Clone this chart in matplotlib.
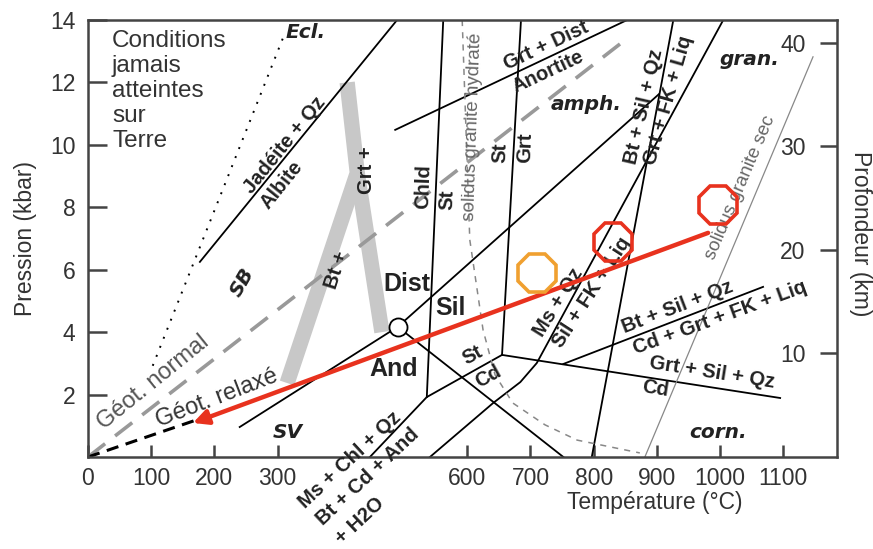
import matplotlib
matplotlib.use("Agg")
import matplotlib.pyplot as plt

plt.rcParams['font.family'] = ['Liberation Sans', 'DejaVu Sans']

# axis ticks (400 and 500 are left out in the original, the labels sit there)
T_ticks = [0, 100, 200, 300, 600, 700, 800, 900, 1000, 1100]
P_ticks = [2, 4, 6, 8, 10, 12, 14]
depth_ticks = [10, 20, 30, 40]
km_per_kbar = 3.014

# reaction curves and limits (T in degC, P in kbar)
ecl_T = [308, 100]
ecl_P = [13.4, 2.8]
jad_T = [177, 489]
jad_P = [6.25, 14.0]
band_left_T = [315, 426, 410]
band_left_P = [2.37, 9.1, 12.0]
band_right_T = [426, 465]
band_right_P = [9.1, 4.0]
normal_T = [0, 846]
normal_P = [0, 13.3]
relax_T = [0, 172]
relax_P = [0, 1.19]
path_T = [981, 166]
path_P = [7.18, 1.09]
triple_T = [490]
triple_P = [4.17]
ky_and_T = [240, 490]
ky_and_P = [0.96, 4.17]
ky_sil_T = [490, 903]
ky_sil_P = [4.17, 11.62]
and_sil_T = [490, 752]
and_sil_P = [4.17, 0]
grt_an_T = [486, 853]
grt_an_P = [10.48, 14.0]
chld_st_T = [562, 536]
chld_st_P = [14.0, 1.92]
st_grt_T = [685, 655]
st_grt_P = [14.0, 3.27]
ms_chl_T = [446, 536, 655]
ms_chl_P = [0, 1.92, 3.27]
grt_cd_T = [655, 1095]
grt_cd_P = [3.27, 1.89]
bt_cd_T = [752, 1068]
bt_cd_P = [2.98, 5.45]
bt_grt_T = [926, 797]
bt_grt_P = [14.0, 0]
ms_qz_T = [1005, 710, 684, 641, 541]
ms_qz_P = [14.0, 3.01, 2.40, 1.73, 0]
wet_T = [592, 604, 625, 644, 672, 723, 774, 873]
wet_P = [14.0, 6.96, 4.07, 2.63, 1.73, 1.03, 0.54, 0.13]
dry_T = [881, 1147]
dry_P = [0, 12.82]
red_T = [997, 831]
red_P = [8.08, 6.89]
orange_T = [710]
orange_P = [5.90]

red = '#e8321e'
txt = '#333333'

fig = plt.figure(figsize=(8.73, 5.49), dpi=100)
ax = fig.add_axes([0.1008, 0.1676, 0.858, 0.796])
ax.set_xlim(0, 1185)
ax.set_ylim(0, 14)

# grey band
ax.plot(band_left_T, band_left_P, color='#c8c8c8', lw=11, solid_capstyle='butt', zorder=1)
ax.plot(band_right_T, band_right_P, color='#c8c8c8', lw=11, solid_capstyle='butt', zorder=1)

# geotherms
ax.plot(normal_T, normal_P, color='#999999', lw=2.6, dashes=(6, 3.5), zorder=2)
ax.plot(relax_T, relax_P, color='black', lw=2.2, dashes=(4, 2.5), zorder=2)
ax.plot(ecl_T, ecl_P, color='black', lw=1.4, dashes=(1, 4), zorder=2)

# reactions
for xs, ys in [(jad_T, jad_P), (ky_and_T, ky_and_P), (ky_sil_T, ky_sil_P),
               (and_sil_T, and_sil_P), (grt_an_T, grt_an_P), (chld_st_T, chld_st_P),
               (st_grt_T, st_grt_P), (ms_chl_T, ms_chl_P), (grt_cd_T, grt_cd_P),
               (bt_cd_T, bt_cd_P), (bt_grt_T, bt_grt_P), (ms_qz_T, ms_qz_P)]:
    ax.plot(xs, ys, color='black', lw=1.3, zorder=2)

ax.plot(wet_T, wet_P, color='#888888', lw=1.1, dashes=(4, 4), zorder=2)
ax.plot(dry_T, dry_P, color='#888888', lw=0.9, zorder=2)

# P-T path
ax.annotate('', xy=(path_T[1], path_P[1]), xytext=(path_T[0], path_P[0]),
            arrowprops=dict(arrowstyle='-|>', color=red, lw=3.2, mutation_scale=22,
                            shrinkA=0, shrinkB=0), zorder=4)
ax.plot(red_T, red_P, '8', ms=29, mfc='none', mec=red, mew=2.6, zorder=5)
ax.plot(orange_T, orange_P, '8', ms=29, mfc='none', mec='#f0a030', mew=2.6, zorder=5)
ax.plot(triple_T, triple_P, 'o', ms=13, mfc='white', mec='black', mew=1.3, zorder=5)

# labels
ax.text(38, 13.69, 'Conditions\njamais\natteintes\nsur\nTerre', ha='left', va='top',
        fontsize=17.5, color=txt, linespacing=1.18)

it = dict(family='DejaVu Sans', style='italic', weight='bold', fontsize=14.5,
          color='#222222', ha='center', va='center')
ax.text(345, 13.59, 'Ecl.', **it)
ax.text(244, 5.61, 'SB', rotation=60, rotation_mode='anchor', **it)
ax.text(316, 0.80, 'SV', **it)
ax.text(1047, 12.72, 'gran.', **it)
ax.text(788, 11.28, 'amph.', **it)
ax.text(997, 0.80, 'corn.', **it)

big = dict(fontsize=18, weight='bold', color='#222222', ha='center', va='center')
ax.text(505, 5.54, 'Dist', **big)
ax.text(573, 4.78, 'Sil', **big)
ax.text(483, 2.82, 'And', **big)

rx = dict(fontsize=14.5, weight='bold', color='#222222', ha='center', va='center',
          rotation_mode='anchor')
labels = [
    ('Jadéite + Qz', 312, 10.0, 51), ('Albite', 307, 8.72, 51),
    ('Grt + Dist', 725, 13.17, 25), ('Anortite', 728, 12.34, 25),
    ('Chld', 530, 8.65, 88), ('St', 568, 8.24, 88),
    ('St', 652, 9.74, 88), ('Grt', 691, 9.90, 88),
    ('Bt + Sil + Qz', 880, 11.22, 77), ('Grt + FK + Liq', 918, 11.44, 74),
    ('Ms + Qz', 744, 4.94, 58), ('Sil + FK + Liq', 797, 5.26, 57),
    ('Bt + Sil + Qz', 932, 4.81, 21), ('Cd + Grt + FK + Liq', 1000, 4.46, 20),
    ('Grt + Sil + Qz', 987, 2.69, -9), ('Cd', 897, 2.18, -9),
    ('St', 608, 3.27, 29), ('Cd', 633, 2.56, 29),
    ('Ms + Chl + Qz', 415, -0.10, 43), ('Bt + Cd + And', 443, -0.64, 43),
    ('+ H2O', 430, -2.05, 43),
    ('Bt +', 394, 5.99, 72), ('Grt +', 440, 9.20, 90),
]
for s, t, p, r in labels:
    ax.text(t, p, s, rotation=r, **rx)

gr = dict(fontsize=13.5, color='#666666', ha='center', va='center', rotation_mode='anchor')
ax.text(608, 10.58, 'solidus granite hydraté', rotation=88, **gr)
ax.text(1032, 8.62, 'solidus granite sec', rotation=67, **gr)
ax.text(103, 2.40, 'Géot. normal', rotation=39, fontsize=17, color='#555555',
        ha='center', va='center', rotation_mode='anchor')
ax.text(204, 1.89, 'Géot. relaxé', rotation=21, fontsize=17, color='#333333',
        ha='center', va='center', rotation_mode='anchor')

# axes styling
for sp in ax.spines.values():
    sp.set_linewidth(1.8)
    sp.set_color('#444444')
ax.set_xticks(T_ticks)
ax.set_yticks(P_ticks)
ax.tick_params(axis='x', direction='in', length=9, width=1.8, pad=7,
               labelsize=16.5, colors='#444444', labelcolor=txt)
ax.tick_params(axis='y', direction='in', length=14, width=1.8, pad=9,
               labelsize=16.5, colors='#444444', labelcolor=txt)
ax.set_ylabel('Pression (kbar)', fontsize=16.5, color=txt, labelpad=9)
ax.set_xlabel('Température (°C)', fontsize=16.5, color=txt)
ax.xaxis.set_label_coords(0.757, -0.078)

ax2 = ax.twinx()
ax2.set_ylim(0, 14 * km_per_kbar)
ax2.set_yticks(depth_ticks)
ax2.tick_params(axis='y', direction='in', length=12, width=1.8, pad=-41,
                labelsize=16.5, colors='#444444', labelcolor=txt)
for sp in ax2.spines.values():
    sp.set_visible(False)
ax2.set_ylabel('Profondeur (km)', fontsize=16.5, color=txt, rotation=270, va='bottom')
ax2.yaxis.set_label_coords(1.016, 0.51)

fig.savefig('out.png', dpi=100)
